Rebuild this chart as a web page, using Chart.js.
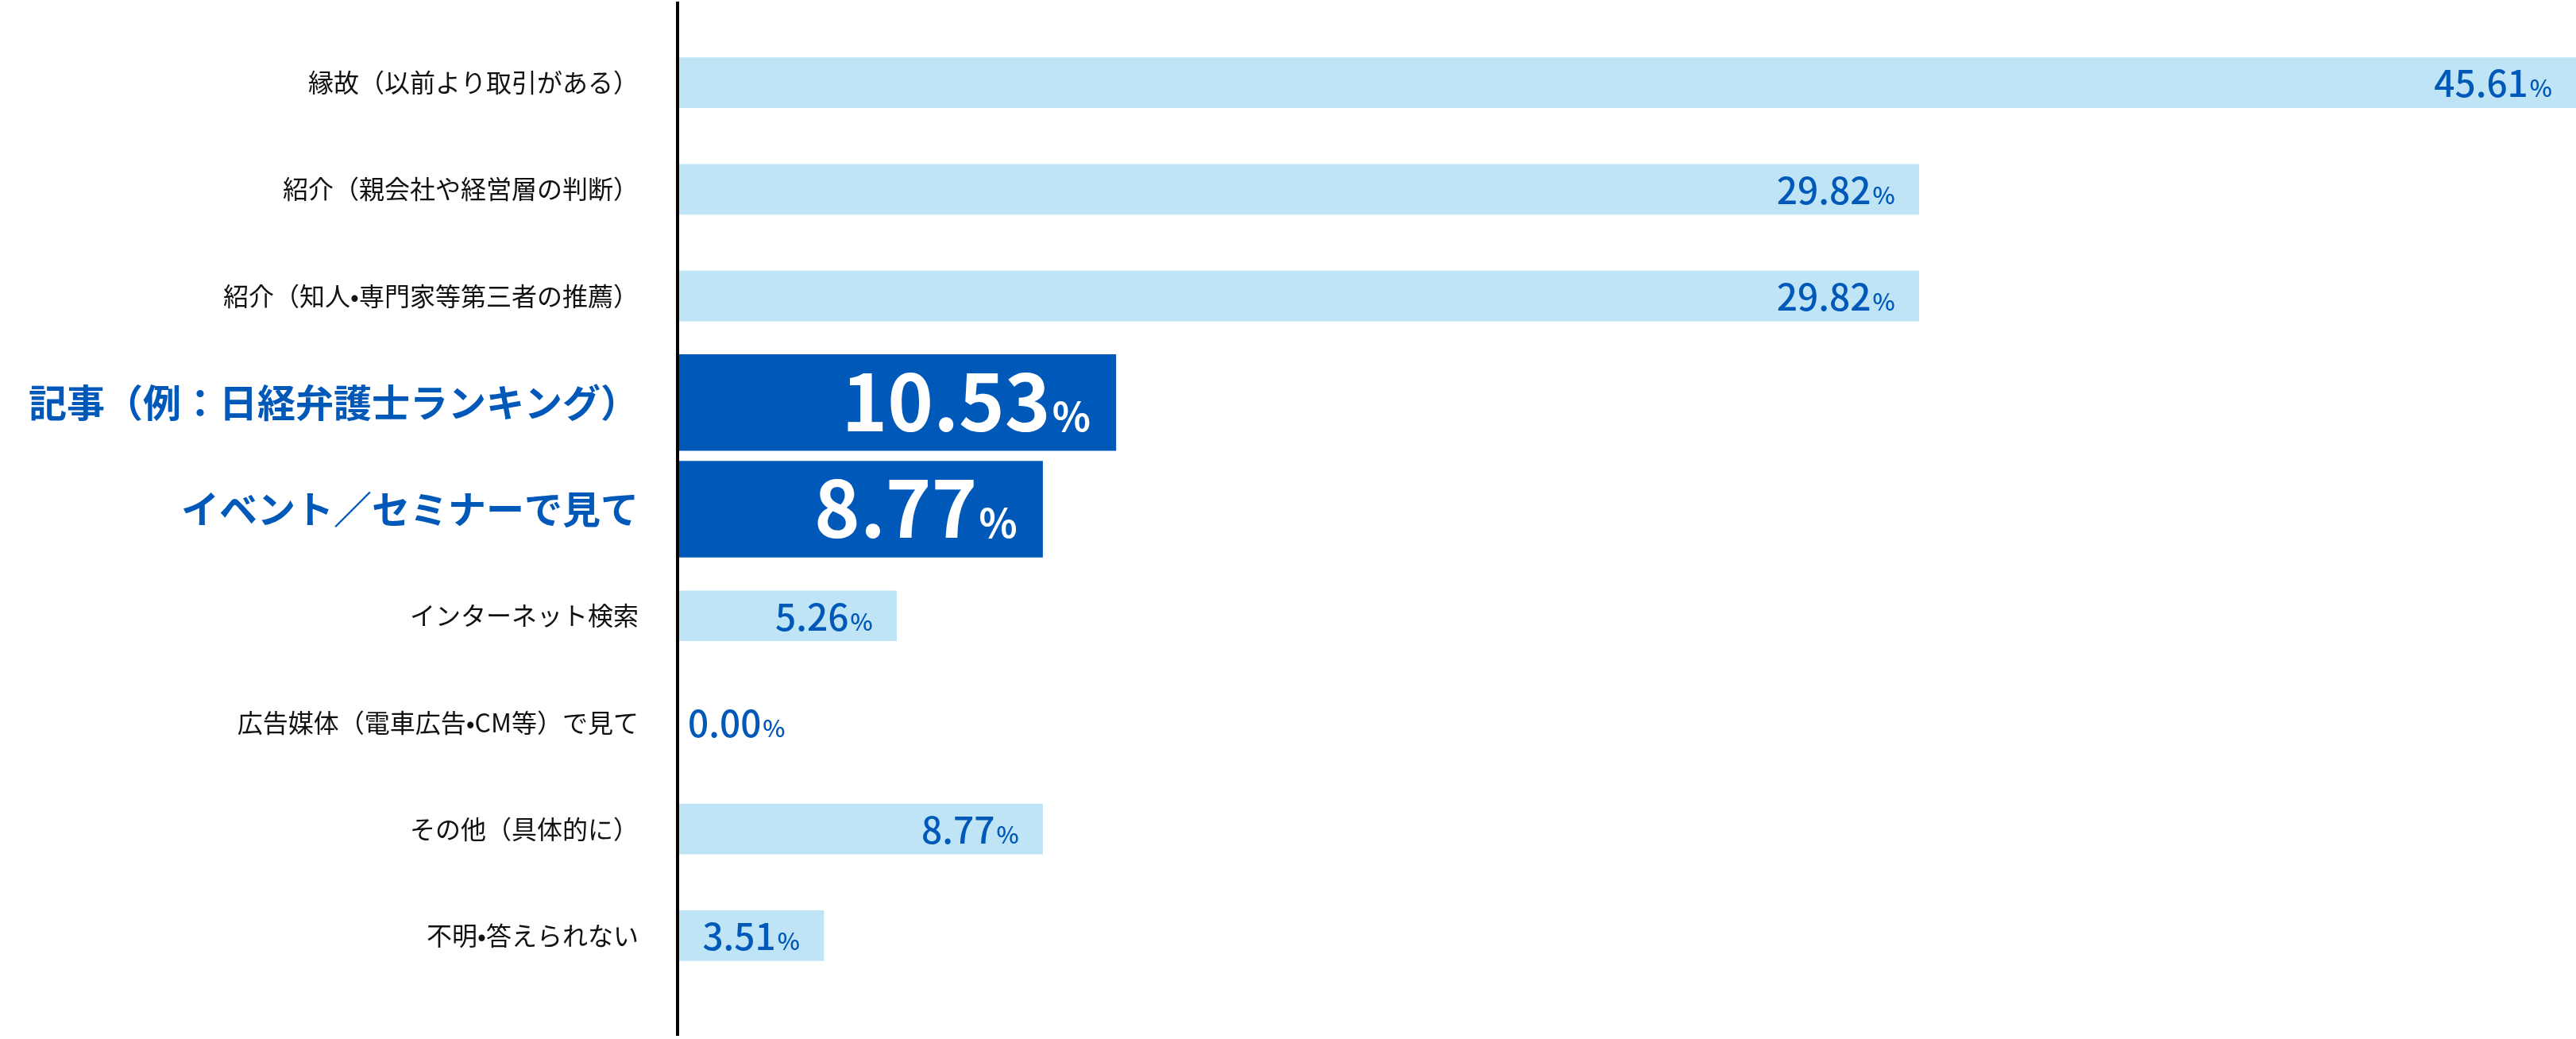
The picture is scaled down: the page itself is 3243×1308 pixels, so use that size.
<!DOCTYPE html>
<html lang="ja">
<head>
<meta charset="utf-8">
<script src="https://cdn.jsdelivr.net/npm/chart.js@4.4.1/dist/chart.umd.min.js"></script>
<style>
  body { margin: 0; background: #fff; }
  #wrap { width: 3243px; height: 1308px; }
</style>
</head>
<body>
<div id="wrap"><canvas id="sources"></canvas></div>
<script>
const categories = [
    '縁故（以前より取引がある）',
    '紹介（親会社や経営層の判断）',
    '紹介（知人•専門家等第三者の推薦）',
    '記事（例：日経弁護士ランキング）',
    'イベント／セミナーで見て',
    'インターネット検索',
    '広告媒体（電車広告•CM等）で見て',
    'その他（具体的に）',
    '不明•答えられない'
]
const percentages = [45.61, 29.82, 29.82, 10.53, 8.77, 5.26, 0.00, 8.77, 3.51]
const highlighted = [false, false, false, true, true, false, false, false, false]

const FONT = '"Noto Sans CJK JP", "Noto Sans", sans-serif'
const BLUE = '#0059b8'
const LIGHT = '#bfe4f6'

let lightData = percentages.map((v, i) => highlighted[i] ? null : v)
let darkData = percentages.map((v, i) => highlighted[i] ? v : null)

// value labels inside the bars: big number + small %
const valueLabels = {
    id: 'valueLabels',
    afterDatasetsDraw(chart) {
        const ctx = chart.ctx
        const x0 = chart.scales.x.getPixelForValue(0)
        chart.data.datasets.forEach((ds, d) => {
            chart.getDatasetMeta(d).data.forEach((bar, i) => {
                let v = ds.data[i]
                if (v === null || v === undefined) return
                let big = highlighted[i]
                let numSize = big ? 98 : 46
                let pctSize = big ? 50 : 30
                let weight = big ? 'bold' : '500'
                let num = v.toFixed(2)
                ctx.save()
                ctx.fillStyle = big ? '#ffffff' : BLUE
                ctx.textBaseline = 'alphabetic'
                ctx.textAlign = 'left'
                ctx.font = weight + ' ' + pctSize + 'px ' + FONT
                let pctW = ctx.measureText('%').width
                ctx.font = weight + ' ' + numSize + 'px ' + FONT
                let numW = ctx.measureText(num).width
                let left
                if (v === 0) {
                    left = x0 + 13
                } else {
                    left = bar.x - (big ? 32 : 30) - pctW - numW - 2
                }
                let base = bar.y + numSize * 0.365 + (big ? 0 : 1.5)
                ctx.fillText(num, left, base)
                ctx.font = weight + ' ' + pctSize + 'px ' + FONT
                ctx.fillText('%', left + numW + 2, base)
                ctx.restore()
            })
        })
    }
}

// black vertical axis line over the full height
const axisLine = {
    id: 'axisLine',
    afterDatasetsDraw(chart) {
        const ctx = chart.ctx
        const x0 = chart.scales.x.getPixelForValue(0)
        ctx.save()
        ctx.strokeStyle = '#000'
        ctx.lineWidth = 4
        ctx.beginPath()
        ctx.moveTo(x0, 2)
        ctx.lineTo(x0, 1304)
        ctx.stroke()
        ctx.restore()
    }
}

let sourceChart = new Chart(document.getElementById('sources'), {
    type: 'bar',
    data: {
        labels: categories,
        datasets: [{
            data: lightData,
            backgroundColor: LIGHT,
            barThickness: 63,
            grouped: false
        }, {
            data: darkData,
            backgroundColor: BLUE,
            barThickness: 121,
            grouped: false
        }]
    },
    options: {
        indexAxis: 'y',
        responsive: true,
        maintainAspectRatio: false,
        devicePixelRatio: 1,
        animation: false,
        layout: { padding: { top: 37, bottom: 63, left: 0, right: 0 } },
        plugins: { legend: { display: false }, tooltip: { enabled: false } },
        scales: {
            x: { display: false, min: 0, max: 45.61 },
            y: {
                grid: { display: false, drawTicks: false },
                border: { display: false },
                afterFit(scale) {
                    scale.width = 853
                    scale.paddingTop = 0
                    scale.paddingBottom = 0
                },
                ticks: {
                    padding: 49,
                    color: (c) => highlighted[c.index] ? BLUE : '#111',
                    font: (c) => highlighted[c.index]
                        ? { family: FONT, size: 48, weight: 'bold' }
                        : { family: FONT, size: 32, weight: 'normal' }
                }
            }
        }
    },
    plugins: [valueLabels, axisLine]
})
</script>
</body>
</html>
